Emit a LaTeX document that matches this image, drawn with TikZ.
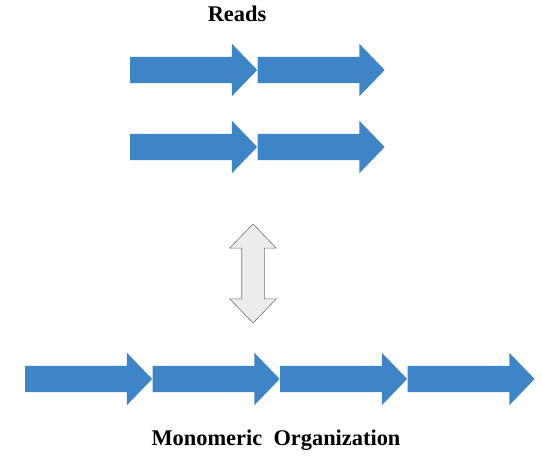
\documentclass[tikz,border=0pt]{standalone}
\usepackage{fontspec}
\setmainfont{Liberation Serif}
\usepackage{tikz}
\usetikzlibrary{shapes.arrows,positioning}
\definecolor{segblue}{RGB}{62,133,199}
\definecolor{swapfill}{RGB}{237,237,237}
\definecolor{swapline}{RGB}{112,112,112}

\begin{document}
\begin{tikzpicture}[x=1pt,y=-1pt,
    seg/.style={single arrow, fill=segblue, draw=none, minimum height=127pt, inner xsep=0pt, inner ysep=13pt,
        single arrow head extend=13pt, single arrow tip angle=92, single arrow head indent=0pt, anchor=tail},
    swap/.style={double arrow, fill=swapfill, draw=swapline, line width=0.6pt, minimum height=99pt, inner xsep=0pt, inner ysep=11pt,
        double arrow head extend=12pt, double arrow tip angle=88, double arrow head indent=0pt, rotate=90},
    title/.style={font=\bfseries\fontsize{22.4}{25}\selectfont}
]
\useasboundingbox (0,0) rectangle (542,465);

\node[title] (reads) at (237,14) {Reads};

% reads
\node[seg] (ra1) at (130,70) {};
\node[seg] (ra2) at (ra1.tip) {};
\node[seg] (rb1) at (130,147) {};
\node[seg] (rb2) at (rb1.tip) {};

\node[swap] (sw) at (253,273.5) {};

% monomers
\node[seg] (m1) at (25,379) {};
\node[seg] (m2) at (m1.tip) {};
\node[seg] (m3) at (m2.tip) {};
\node[seg] (m4) at (m3.tip) {};

\node[title] (mono) at (276,440) {Monomeric\ \ Organization};
\end{tikzpicture}
\end{document}
